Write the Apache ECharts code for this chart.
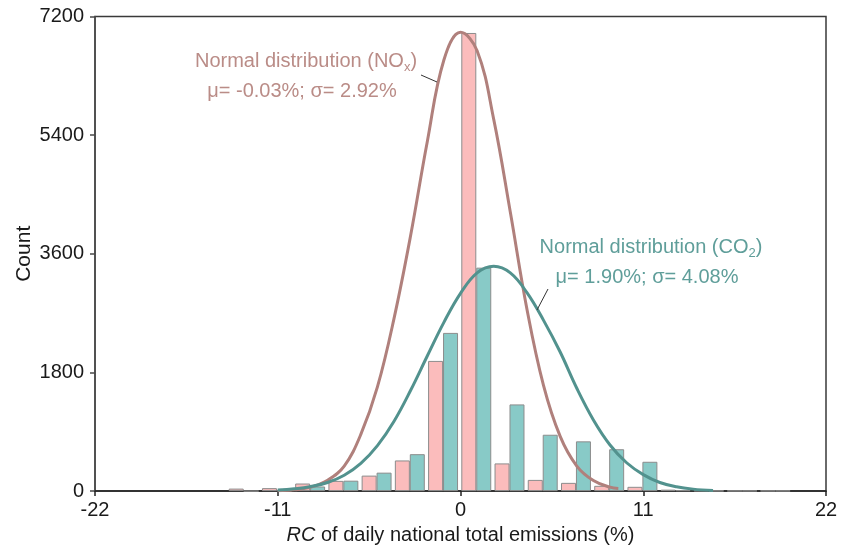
<!DOCTYPE html>
<html>
<head>
<meta charset="utf-8">
<script src="https://cdn.jsdelivr.net/npm/echarts@6/dist/echarts.min.js"></script>
<style>
  html, body { margin: 0; padding: 0; background: #fff; }
  #main { width: 841px; height: 550px; }
</style>
</head>
<body>
<div id="main"></div>
<script>
// bins are 2 units wide, left edge given here
var binStart = [-14, -12, -10, -8, -6, -4, -2, 0, 2, 4, 6, 8, 10, 12, 14, 16, 18];
var noxCounts = [38, 45, 115, 155, 235, 465, 1975, 6950, 420, 170, 125, 80, 65, 22, 8, 5, 5];
var co2Counts = [0, 10, 70, 158, 280, 560, 2400, 3390, 1315, 855, 755, 635, 445, 14, 6, 5, 5];

// fitted normal curves
var noxCurveX = [-11, -10, -9, -8, -7, -6, -5, -4, -3, -2, -1, 0, 1, 2, 3, 4, 5, 6, 7, 8, 9, 9.5];
var noxCurveY = [5, 20, 60, 165, 380, 860, 1580, 2620, 3880, 5300, 6540, 6960, 6680, 5640, 4230, 2760, 1600, 830, 380, 160, 60, 40];
var co2CurveX = [-11, -10, -9, -8, -7, -6, -5, -4, -3, -2, -1, 0, 1, 2, 3, 4, 5, 6, 7, 8, 9, 10, 11, 12, 13, 14, 15.2];
var co2CurveY = [15, 35, 70, 130, 240, 420, 690, 1060, 1530, 2050, 2560, 3000, 3310, 3410, 3310, 3010, 2590, 2110, 1560, 1080, 700, 430, 250, 130, 65, 30, 10];

var xTicks = [-22, -11, 0, 11, 22];
var yTicks = [0, 1800, 3600, 5400, 7200];

var noxBars = [], co2Bars = [], noxLine = [], co2Line = [];
for (var i in binStart) {
    noxBars.push([binStart[i] + 0.5, noxCounts[i]]);
    co2Bars.push([binStart[i] + 1.4, co2Counts[i]]);
}
for (var i in noxCurveX) noxLine.push([noxCurveX[i], noxCurveY[i]]);
for (var i in co2CurveX) co2Line.push([co2CurveX[i], co2CurveY[i]]);

var font = 'Liberation Sans, Arial, sans-serif';
var noxColor = '#B0807C', co2Color = '#52928E';

var myChart = echarts.init(document.getElementById('main'));
var option = {
    backgroundColor: '#fff',
    animation: false,
    grid: {
        left: 95, right: 15, top: 16.5, bottom: 55.5,
        show: true, borderColor: '#3a3a3a', borderWidth: 1.5, backgroundColor: 'transparent'
    },
    xAxis: {
        type: 'value',
        min: xTicks[0], max: xTicks[xTicks.length - 1], interval: 11,
        name: '{it|RC} of daily national total emissions (%)',
        nameLocation: 'middle', nameGap: 31,
        nameTextStyle: {
            fontFamily: font, fontSize: 20, color: '#1a1a1a',
            rich: { it: { fontFamily: font, fontSize: 20, fontStyle: 'italic', color: '#1a1a1a' } }
        },
        axisLine: { onZero: false, lineStyle: { color: '#222', width: 1.5 } },
        axisTick: { show: true, inside: false, length: 5, lineStyle: { color: '#222', width: 1.5 } },
        axisLabel: { fontFamily: font, fontSize: 20, color: '#1a1a1a', margin: 9 },
        splitLine: { show: false }
    },
    yAxis: {
        type: 'value',
        min: yTicks[0], max: yTicks[yTicks.length - 1], interval: 1800,
        name: 'Count', nameLocation: 'middle', nameGap: 60, nameMoveOverlap: false,
        nameTextStyle: { fontFamily: font, fontSize: 21, color: '#1a1a1a' },
        axisLine: { show: true, onZero: false, lineStyle: { color: '#4a4a4a', width: 1.5 } },
        axisTick: { show: true, inside: false, length: 5, lineStyle: { color: '#4a4a4a', width: 1.5 } },
        axisLabel: {
            fontFamily: font, fontSize: 20, color: '#1a1a1a', margin: 11,
            formatter: function(v) { return String(v); }
        },
        splitLine: { show: false }
    },
    series: [
        {
            name: 'NOx', type: 'bar', data: noxBars, barWidth: 15, barGap: '-100%',
            itemStyle: { color: '#FBBCBC', borderColor: '#8c8c8c', borderWidth: 1 },
            z: 2
        },
        {
            name: 'CO2', type: 'bar', data: co2Bars, barWidth: 15, barGap: '-100%',
            itemStyle: { color: '#88CAC7', borderColor: '#8c8c8c', borderWidth: 1 },
            z: 2
        },
        {
            name: 'NOx fit', type: 'line', data: noxLine, smooth: 0.4, showSymbol: false,
            lineStyle: { color: noxColor, width: 3 }, z: 3
        },
        {
            name: 'CO2 fit', type: 'line', data: co2Line, smooth: 0.4, showSymbol: false,
            lineStyle: { color: co2Color, width: 3 }, z: 3
        }
    ],
    graphic: [
        {
            type: 'text', z: 10,
            style: {
                x: 306, y: 61, text: 'Normal distribution (NO{sub|x})',
                font: '20px ' + font, fill: '#BA8C87', align: 'center', verticalAlign: 'middle',
                rich: { sub: { fontSize: 13, fontFamily: font, fill: '#BA8C87', verticalAlign: 'bottom', lineHeight: 26 } }
            }
        },
        {
            type: 'text', z: 10,
            style: {
                x: 302, y: 91, text: '\u03bc= -0.03%; \u03c3= 2.92%',
                font: '20px ' + font, fill: '#BA8C87', align: 'center', verticalAlign: 'middle'
            }
        },
        {
            type: 'text', z: 10,
            style: {
                x: 651, y: 247, text: 'Normal distribution (CO{sub|2})',
                font: '20px ' + font, fill: '#5F9E9A', align: 'center', verticalAlign: 'middle',
                rich: { sub: { fontSize: 13, fontFamily: font, fill: '#5F9E9A', verticalAlign: 'bottom', lineHeight: 26 } }
            }
        },
        {
            type: 'text', z: 10,
            style: {
                x: 647, y: 277, text: '\u03bc= 1.90%; \u03c3= 4.08%',
                font: '20px ' + font, fill: '#5F9E9A', align: 'center', verticalAlign: 'middle'
            }
        },
        {
            type: 'line', z: 10,
            shape: { x1: 421, y1: 75, x2: 437, y2: 82 },
            style: { stroke: '#333', lineWidth: 1 }
        },
        {
            type: 'line', z: 10,
            shape: { x1: 537, y1: 310, x2: 548, y2: 289 },
            style: { stroke: '#333', lineWidth: 1 }
        }
    ]
};
myChart.setOption(option);
</script>
</body>
</html>
